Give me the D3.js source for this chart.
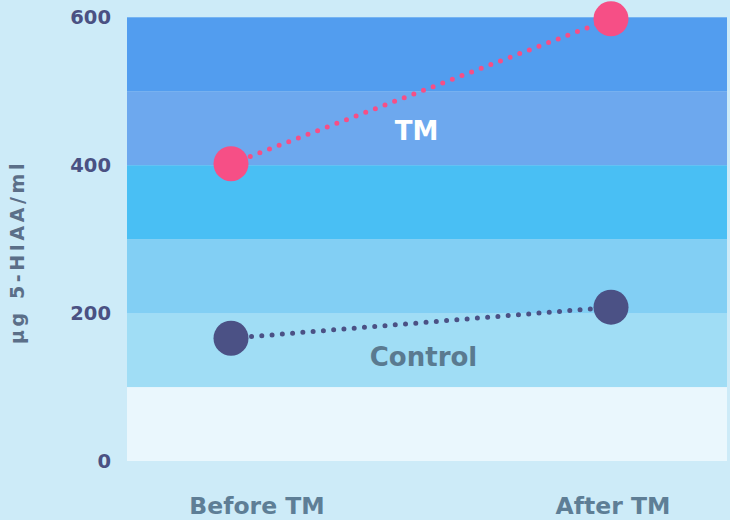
<!DOCTYPE html>
<html><head><meta charset="utf-8">
<script src="https://cdn.jsdelivr.net/npm/d3@7"></script>
<style>
html,body{margin:0;padding:0;background:#cdebf8;}
svg{display:block;font-family:"DejaVu Sans","Open Sans",sans-serif;}
</style></head>
<body><svg id="c" width="730" height="520"></svg>
<script>
const categories = ["Before TM", "After TM"];
const tmValues = [402, 598];
const controlValues = [166, 208];
const yTicks = [0, 200, 400, 600];
const bandEdges = [0, 100, 200, 300, 400, 500, 600];
const bandColors = ["#eaf7fd", "#a0ddf5", "#82cff4", "#49bff4", "#6da8ee", "#529def"];

const svg = d3.select("#c");
const W = 730, H = 520;
const plot = {left: 127, right: 727, top: 17.3, bottom: 461};

const y = d3.scaleLinear().domain([0, 600]).range([plot.bottom, plot.top]);
const x = d3.scalePoint().domain(categories).range([231, 611]);

svg.append("rect").attr("width", W).attr("height", H).attr("fill", "#cdebf8");

// bands
svg.append("g").selectAll("rect").data(bandColors).join("rect")
  .attr("x", plot.left).attr("width", plot.right - plot.left)
  .attr("y", (d, i) => y(bandEdges[i + 1]))
  .attr("height", (d, i) => y(bandEdges[i]) - y(bandEdges[i + 1]))
  .attr("fill", d => d);

// y tick labels
svg.append("g").selectAll("text").data(yTicks).join("text")
  .attr("x", 111).attr("y", d => y(d)).attr("dy", "0.36em")
  .attr("text-anchor", "end").attr("font-size", 19.5).attr("font-weight", 700)
  .attr("fill", "#4a5183").text(d => d);

// y axis title
svg.append("text").attr("transform", "translate(24,252) rotate(-90)")
  .attr("text-anchor", "middle").attr("font-size", 19).attr("font-weight", 700)
  .attr("fill", "#5b6f88").attr("letter-spacing", 3.6).text("μg 5-HIAA/ml");

// x labels
svg.append("g").selectAll("text").data(categories).join("text")
  .attr("x", (d, i) => x(d) + (i === 0 ? 26 : 2)).attr("y", 514)
  .attr("text-anchor", "middle").attr("font-size", 23.5).attr("font-weight", 700)
  .attr("fill", "#5e7e96").text(d => d);

const line = d3.line().x(d => x(d.c)).y(d => y(d.v));
const series = [
  {name: "TM", values: tmValues, color: "#f64f86"},
  {name: "Control", values: controlValues, color: "#4b5185"}
];
series.forEach(s => {
  const pts = categories.map((c, i) => ({c, v: s.values[i]}));
  svg.append("path").datum(pts).attr("d", line).attr("fill", "none")
    .attr("stroke", s.color).attr("stroke-width", 5)
    .attr("stroke-linecap", "round").attr("stroke-dasharray", "0 10.3");
  svg.append("g").selectAll("circle").data(pts).join("circle")
    .attr("cx", d => x(d.c)).attr("cy", d => y(d.v)).attr("r", 17.5)
    .attr("fill", s.color);
});

// series labels
svg.append("text").attr("x", 416.5).attr("y", 140).attr("text-anchor", "middle")
  .attr("font-size", 26).attr("font-weight", 700).attr("fill", "#ffffff").text("TM");
svg.append("text").attr("x", 423.5).attr("y", 366).attr("text-anchor", "middle")
  .attr("font-size", 26).attr("font-weight", 700).attr("fill", "#5a7a90").text("Control");
</script></body></html>
